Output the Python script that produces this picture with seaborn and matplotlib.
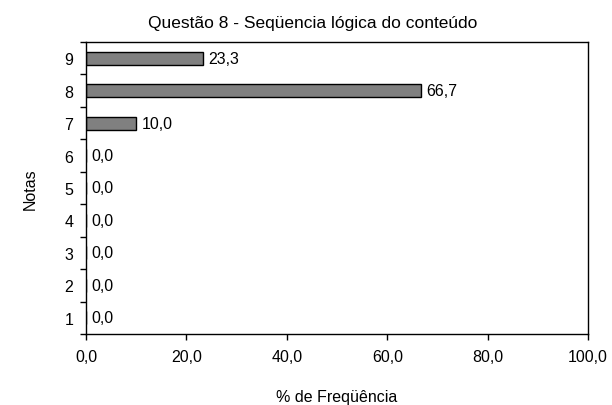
import numpy as np
import pandas as pd
import matplotlib
matplotlib.use('Agg')
import matplotlib.pyplot as plt
import seaborn as sns

notas = ['9', '8', '7', '6', '5', '4', '3', '2', '1']
freq = [23.3, 66.7, 10.0, 0.0, 0.0, 0.0, 0.0, 0.0, 0.0]
x_ticks = [0, 20, 40, 60, 80, 100]

sns.set_style('white')
plt.rcParams['font.family'] = ['Liberation Sans', 'DejaVu Sans']
plt.rcParams['font.size'] = 11.5
plt.rcParams['text.color'] = 'black'
plt.rcParams['axes.labelcolor'] = 'black'
plt.rcParams['xtick.color'] = 'black'
plt.rcParams['ytick.color'] = 'black'

df = pd.DataFrame({'nota': notas, 'freq': freq})

fig = plt.figure(figsize=(6.12, 4.06), dpi=100)
ax = fig.add_axes([0.1405, 0.175, 0.8205, 0.719])
sns.barplot(data=df, x='freq', y='nota', order=notas, orient='h',
            color='#808080', edgecolor='black', linewidth=1.0,
            width=0.40, saturation=1, ax=ax)

fmt = lambda v: f'{v:.1f}'.replace('.', ',')
ax.bar_label(ax.containers[0], labels=[fmt(v) for v in freq], padding=4,
             fontsize=11.5)

ax.set_xlim(0, 100)
ax.set_ylim(len(notas) - 0.5, -0.5)
ax.set_xticks(x_ticks)
ax.set_xticklabels([fmt(v) for v in x_ticks])
# labels at category centres, tick marks at category boundaries
ax.set_yticks(np.arange(len(notas)), minor=True)
ax.set_yticklabels(notas, minor=True)
ax.set_yticks(np.arange(len(notas) + 1) - 0.5)
ax.set_yticklabels([])
ax.tick_params(axis='y', which='minor', length=0, pad=9, labelsize=11.5)
ax.tick_params(axis='y', which='major', length=4, width=1, direction='out', left=True)
ax.tick_params(axis='x', length=4, width=1, direction='out', bottom=True, pad=7,
               labelsize=11.5)

for s in ax.spines.values():
    s.set_color('black')
    s.set_linewidth(1.0)

ax.set_title('Questão 8 - Seqüencia lógica do conteúdo', fontsize=12.5, pad=11, x=0.452)
ax.set_xlabel('% de Freqüência', labelpad=18)
ax.set_ylabel('Notas', labelpad=19)

fig.savefig('out.png', dpi=100)
